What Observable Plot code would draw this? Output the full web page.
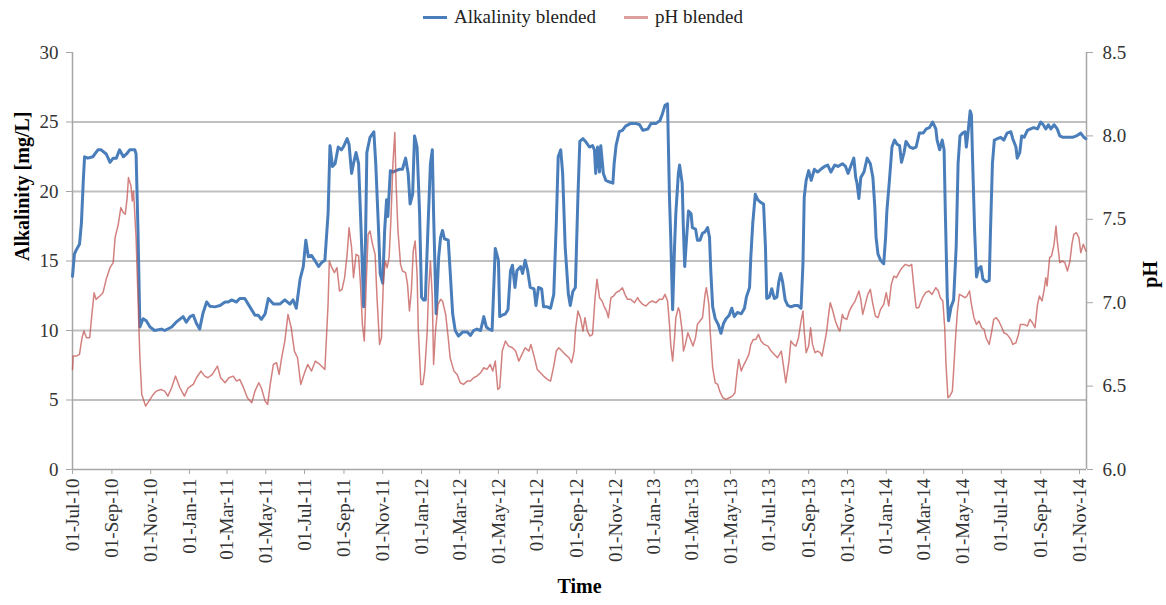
<!DOCTYPE html>
<html>
<head>
<meta charset="utf-8">
<script src="https://cdn.jsdelivr.net/npm/d3@7"></script>
<script src="https://cdn.jsdelivr.net/npm/@observablehq/plot@0.6"></script>
<style>
  body { margin: 0; background: #fff; }
  #wrap { position: relative; width: 1166px; height: 605px; font-family: "Liberation Serif", "Times New Roman", serif; }
  #legend { position: absolute; top: 6px; left: 0; width: 1166px; display: flex; justify-content: center; gap: 28px; font-size: 19px; color: #222; }
  #legend .item { display: flex; align-items: center; gap: 7px; }
  #legend .sw { display: inline-block; width: 24px; height: 3px; }
  #chart svg { display: block; }
</style>
</head>
<body>
<div id="wrap">
  <div id="chart"></div>
  <div id="legend">
    <span class="item"><span class="sw" style="background:#4a7ebb"></span>Alkalinity blended</span>
    <span class="item"><span class="sw" style="background:#c0504d;opacity:0.55"></span>pH blended</span>
  </div>
</div>
<script>
// Series start date; each reading below is [days since start, value]
const startDate = new Date(Date.UTC(2010, 6, 1));
const endDate = new Date(Date.UTC(2014, 10, 12));

// Alkalinity (mg/L), blended water
const alkalinity = [[0,13.9],[3,15.5],[6,15.8],[11,16.2],[14,17.7],[17,20.8],[19,22.5],[24,22.4],[32,22.5],[40,23.0],[45,23.0],[53,22.7],[59,22.1],[64,22.4],[69,22.4],[74,23.0],[80,22.5],[85,22.7],[90,23.0],[98,23.0],[100,22.7],[103,17.2],[106,10.25],[111,10.85],[116,10.7],[122,10.25],[129,10.0],[140,10.1],[145,10.0],[156,10.25],[163,10.6],[174,11.0],[179,10.6],[185,11.0],[190,11.1],[195,10.5],[200,10.1],[205,11.2],[211,12.05],[216,11.75],[224,11.7],[232,11.8],[240,12.05],[245,12.05],[250,12.2],[258,12.05],[263,12.3],[271,12.3],[279,11.7],[287,11.1],[292,11.1],[297,10.8],[303,11.2],[308,12.3],[316,11.9],[326,11.9],[334,12.2],[342,11.9],[347,12.2],[352,11.6],[358,13.7],[363,14.6],[367,16.5],[371,15.3],[376,15.4],[381,15.05],[387,14.6],[392,14.9],[397,15.05],[402,18.4],[405,23.3],[409,21.8],[413,22.0],[418,23.2],[423,23.0],[426,23.2],[432,23.8],[435,23.4],[439,21.3],[442,22.0],[446,22.8],[450,22.0],[454,17.2],[458,11.7],[461,16.7],[463,22.8],[468,23.9],[474,24.3],[477,22.0],[481,17.7],[484,14.1],[488,13.4],[491,17.2],[494,19.4],[496,18.2],[500,21.5],[504,21.4],[509,21.5],[514,21.6],[519,21.6],[524,22.4],[528,21.3],[531,19.1],[535,19.8],[538,24.0],[542,23.2],[546,18.4],[549,12.4],[552,12.2],[555,12.2],[559,17.2],[563,22.0],[566,23.0],[568,18.4],[572,11.2],[576,15.3],[579,16.7],[582,17.2],[585,16.6],[591,16.5],[594,14.3],[598,11.2],[602,10.0],[607,9.6],[614,9.9],[621,9.9],[626,9.65],[631,10.0],[636,10.1],[642,10.0],[647,11.0],[651,10.25],[655,10.1],[660,10.0],[665,15.9],[670,15.05],[672,11.0],[676,11.1],[681,11.2],[685,11.5],[689,14.3],[692,14.7],[696,13.1],[699,14.3],[705,14.6],[708,14.1],[712,15.05],[716,14.3],[720,13.1],[726,13.0],[729,11.8],[733,13.1],[738,13.0],[741,11.7],[747,11.7],[752,11.6],[757,12.6],[761,17.7],[764,22.5],[768,23.0],[771,21.3],[775,16.0],[780,12.6],[783,11.8],[787,12.8],[791,13.1],[795,19.6],[798,23.6],[803,23.8],[807,23.6],[813,23.2],[818,23.3],[821,23.0],[823,21.3],[826,23.2],[829,21.4],[831,23.3],[835,21.3],[839,20.8],[844,20.7],[850,20.6],[852,22.0],[855,23.3],[860,24.3],[865,24.4],[870,24.7],[878,24.9],[886,24.9],[892,24.8],[897,24.4],[905,24.5],[910,24.9],[918,24.9],[924,25.1],[928,25.6],[932,26.2],[936,26.3],[939,19.6],[941,16.7],[944,11.5],[947,16.0],[949,18.4],[953,21.3],[955,21.9],[959,20.6],[961,17.2],[963,14.6],[966,16.7],[969,18.6],[973,18.4],[975,17.4],[980,17.3],[983,16.5],[987,16.5],[991,17.0],[995,17.1],[999,17.4],[1002,16.7],[1004,14.3],[1007,11.7],[1011,10.85],[1016,10.4],[1020,9.8],[1024,10.5],[1028,10.85],[1033,11.1],[1037,11.6],[1041,11.0],[1046,11.3],[1052,11.2],[1057,11.6],[1060,12.4],[1065,13.1],[1067,15.3],[1070,17.7],[1074,19.8],[1078,19.4],[1083,19.2],[1087,19.1],[1090,16.0],[1092,12.3],[1096,12.4],[1100,13.0],[1104,12.3],[1108,12.4],[1111,13.5],[1114,14.1],[1117,13.5],[1121,12.2],[1125,11.8],[1130,11.7],[1136,11.8],[1141,11.8],[1146,11.6],[1149,14.8],[1151,19.6],[1154,20.8],[1158,21.5],[1162,20.8],[1167,21.6],[1172,21.4],[1177,21.6],[1183,21.8],[1188,21.9],[1193,21.4],[1199,21.9],[1204,21.8],[1211,22.0],[1216,21.8],[1220,21.3],[1224,21.8],[1229,22.4],[1232,21.0],[1234,20.6],[1237,19.5],[1240,21.0],[1245,21.4],[1250,22.4],[1255,22.0],[1259,21.0],[1262,18.9],[1264,16.7],[1267,15.5],[1271,15.05],[1276,14.8],[1279,16.7],[1281,18.6],[1285,20.8],[1289,23.2],[1293,23.7],[1297,23.4],[1301,23.3],[1304,22.1],[1308,22.8],[1311,23.6],[1317,23.2],[1322,23.1],[1327,23.2],[1332,24.2],[1338,24.2],[1343,24.5],[1348,24.6],[1353,25.0],[1358,24.5],[1360,23.7],[1364,23.0],[1368,23.7],[1371,23.0],[1373,18.4],[1376,12.4],[1378,10.7],[1382,11.7],[1386,12.2],[1390,16.0],[1393,22.0],[1396,24.0],[1400,24.2],[1404,24.3],[1406,23.2],[1409,24.4],[1412,25.8],[1414,25.5],[1416,22.0],[1419,17.2],[1422,13.85],[1425,14.45],[1429,14.6],[1432,13.7],[1437,13.5],[1442,13.6],[1444,17.2],[1447,22.0],[1450,23.7],[1455,23.8],[1460,23.9],[1465,23.7],[1470,24.2],[1476,24.3],[1479,23.8],[1484,23.2],[1486,22.4],[1490,22.8],[1493,24.0],[1497,23.9],[1502,24.4],[1507,24.5],[1512,24.6],[1518,24.5],[1523,25.0],[1527,24.8],[1531,24.5],[1535,24.8],[1539,24.5],[1544,24.8],[1549,24.5],[1553,24.0],[1558,23.9],[1565,23.9],[1573,23.9],[1579,24.0],[1586,24.2],[1591,23.9],[1594,23.8]];

// pH, blended water
const ph = [[0,6.60],[1,6.68],[6,6.68],[11,6.69],[15,6.79],[18,6.83],[22,6.79],[27,6.79],[30,6.91],[34,7.06],[37,7.02],[43,7.04],[48,7.06],[53,7.14],[59,7.21],[64,7.24],[67,7.39],[72,7.47],[76,7.57],[80,7.54],[83,7.53],[86,7.63],[88,7.75],[92,7.70],[94,7.61],[96,7.67],[100,7.39],[103,7.03],[106,6.67],[109,6.45],[115,6.38],[122,6.42],[127,6.45],[132,6.47],[139,6.48],[145,6.47],[150,6.44],[156,6.49],[162,6.56],[169,6.49],[176,6.44],[182,6.49],[190,6.51],[195,6.55],[202,6.59],[208,6.56],[213,6.55],[220,6.57],[228,6.62],[233,6.55],[240,6.52],[246,6.55],[253,6.56],[258,6.53],[263,6.54],[268,6.50],[275,6.43],[282,6.40],[287,6.47],[293,6.52],[297,6.49],[303,6.41],[307,6.39],[311,6.51],[316,6.63],[321,6.64],[325,6.57],[329,6.67],[334,6.77],[339,6.93],[344,6.85],[349,6.71],[354,6.67],[359,6.51],[365,6.58],[370,6.63],[376,6.59],[382,6.65],[389,6.63],[397,6.60],[402,6.99],[404,7.25],[408,7.21],[412,7.18],[416,7.21],[420,7.07],[424,7.08],[428,7.15],[432,7.29],[435,7.45],[439,7.33],[442,7.15],[446,7.29],[450,7.28],[453,7.11],[456,6.87],[459,6.77],[462,7.11],[465,7.41],[468,7.43],[472,7.35],[476,7.29],[479,7.03],[483,6.75],[486,6.79],[489,7.13],[492,7.25],[495,7.21],[498,7.27],[501,7.51],[504,7.83],[507,8.02],[509,7.71],[512,7.43],[516,7.23],[519,7.19],[524,7.18],[527,7.11],[530,6.95],[533,7.07],[536,7.31],[539,7.37],[542,7.17],[544,6.83],[548,6.51],[551,6.51],[554,6.59],[558,6.83],[560,7.07],[563,7.25],[566,7.03],[568,6.63],[571,6.83],[575,6.99],[579,7.02],[582,7.01],[587,6.93],[591,6.79],[594,6.67],[600,6.59],[605,6.57],[610,6.52],[615,6.51],[621,6.53],[626,6.53],[631,6.55],[636,6.56],[642,6.58],[647,6.61],[652,6.60],[657,6.63],[661,6.59],[665,6.65],[669,6.48],[672,6.49],[676,6.71],[681,6.77],[686,6.74],[692,6.73],[697,6.71],[702,6.65],[707,6.69],[712,6.73],[718,6.71],[721,6.75],[726,6.68],[731,6.60],[736,6.58],[741,6.56],[747,6.54],[752,6.53],[757,6.62],[761,6.71],[765,6.73],[770,6.71],[775,6.69],[781,6.67],[785,6.64],[789,6.71],[791,6.83],[795,6.95],[799,6.91],[803,6.83],[806,6.91],[810,6.83],[814,6.80],[818,6.81],[822,7.03],[825,7.14],[829,7.03],[833,7.01],[836,6.98],[840,6.95],[843,6.91],[847,7.03],[851,7.04],[855,7.06],[860,7.07],[865,7.09],[869,7.05],[873,7.02],[878,7.02],[884,7.00],[889,7.03],[892,7.01],[897,6.99],[902,6.98],[907,7.00],[912,7.01],[918,7.00],[923,7.02],[928,7.02],[932,7.05],[936,7.01],[939,6.87],[941,6.75],[944,6.65],[947,6.79],[949,6.91],[953,6.97],[955,6.95],[959,6.83],[961,6.71],[964,6.75],[968,6.82],[971,6.79],[976,6.74],[980,6.79],[983,6.87],[987,6.89],[991,6.91],[995,7.05],[997,7.09],[1001,6.99],[1003,6.83],[1007,6.61],[1011,6.52],[1015,6.51],[1018,6.47],[1023,6.43],[1028,6.42],[1033,6.43],[1038,6.44],[1042,6.46],[1045,6.57],[1048,6.66],[1052,6.59],[1055,6.62],[1059,6.65],[1064,6.69],[1067,6.75],[1071,6.78],[1075,6.78],[1079,6.81],[1083,6.77],[1088,6.75],[1094,6.74],[1099,6.71],[1104,6.69],[1109,6.67],[1115,6.71],[1118,6.63],[1122,6.52],[1127,6.65],[1130,6.77],[1134,6.75],[1138,6.74],[1142,6.79],[1146,6.89],[1149,6.95],[1151,6.83],[1154,6.70],[1158,6.74],[1161,6.85],[1164,6.75],[1168,6.70],[1172,6.71],[1176,6.70],[1179,6.68],[1183,6.76],[1186,6.82],[1190,6.95],[1192,7.00],[1196,6.95],[1200,6.89],[1204,6.85],[1207,6.83],[1211,6.93],[1213,6.91],[1218,6.90],[1222,6.95],[1226,6.98],[1231,7.01],[1234,7.04],[1237,7.07],[1240,7.02],[1243,6.93],[1247,6.99],[1251,7.05],[1255,7.08],[1259,6.99],[1263,6.92],[1267,6.91],[1271,6.96],[1276,6.99],[1280,7.06],[1284,6.98],[1288,7.11],[1292,7.16],[1296,7.15],[1300,7.18],[1305,7.21],[1310,7.23],[1316,7.22],[1320,7.23],[1323,7.11],[1327,6.97],[1331,6.97],[1337,7.03],[1342,7.06],[1347,7.07],[1352,7.05],[1358,7.09],[1362,7.07],[1365,7.03],[1369,7.01],[1372,6.85],[1374,6.63],[1377,6.43],[1380,6.44],[1384,6.47],[1386,6.59],[1389,6.79],[1392,6.95],[1395,7.05],[1400,7.04],[1404,7.03],[1407,7.04],[1411,7.07],[1414,6.99],[1418,6.91],[1422,6.87],[1426,6.89],[1430,6.85],[1434,6.84],[1437,6.79],[1442,6.75],[1446,6.83],[1449,6.90],[1453,6.91],[1457,6.89],[1462,6.85],[1465,6.82],[1470,6.81],[1476,6.78],[1479,6.75],[1484,6.76],[1488,6.81],[1491,6.87],[1497,6.87],[1502,6.86],[1506,6.90],[1510,6.88],[1514,6.85],[1518,6.99],[1521,7.04],[1525,7.01],[1528,7.07],[1531,7.15],[1533,7.10],[1537,7.27],[1540,7.28],[1544,7.35],[1547,7.46],[1549,7.37],[1553,7.24],[1557,7.25],[1561,7.24],[1565,7.19],[1569,7.25],[1572,7.35],[1575,7.41],[1579,7.42],[1583,7.39],[1586,7.30],[1590,7.35],[1594,7.31]];

// Axis ticks
const alkTicks = [0, 5, 10, 15, 20, 25, 30];
const alkGrid = [5, 10, 15, 20, 25];
const phTicks = [6.0, 6.5, 7.0, 7.5, 8.0, 8.5];
const dateTicks = d3.utcMonth.every(2).range(startDate, new Date(Date.UTC(2014, 10, 2)));

// pH shares the plot height with alkalinity: 6.0–8.5 maps onto 0–30 mg/L
const [alkMin, alkMax] = [alkTicks[0], alkTicks[alkTicks.length - 1]];
const [phMin, phMax] = [phTicks[0], phTicks[phTicks.length - 1]];
const phToAlk = p => alkMin + (p - phMin) * (alkMax - alkMin) / (phMax - phMin);
const alkToPh = a => phMin + (a - alkMin) * (phMax - phMin) / (alkMax - alkMin);

const toRows = series => series.map(([day, value]) => ({date: d3.utcDay.offset(startDate, day), value}));
const alkRows = toRows(alkalinity);
const phRows = toRows(ph);

const axisGray = "#a6a6a6";
const labelColor = "#333";

const chart = Plot.plot({
  width: 1166,
  height: 605,
  marginLeft: 72,
  marginRight: 80,
  marginTop: 52,
  marginBottom: 136,
  style: {fontFamily: '"Liberation Serif", "Times New Roman", serif', fontSize: "19px", background: "#fff", color: labelColor},
  x: {type: "utc", domain: [startDate, endDate]},
  y: {domain: [alkMin, alkMax]},
  marks: [
    Plot.ruleY(alkGrid, {stroke: "#c0c0c0", strokeWidth: 2}),
    Plot.ruleX([startDate, endDate], {stroke: axisGray, strokeWidth: 1.5}),
    Plot.ruleY([alkMin], {stroke: axisGray, strokeWidth: 1.5}),
    Plot.axisY(alkTicks, {anchor: "left", tickSize: 6, tickPadding: 8, stroke: axisGray, fill: labelColor, label: null}),
    Plot.axisY(phTicks.map(phToAlk), {anchor: "right", tickSize: 6, tickPadding: 10, tickFormat: v => alkToPh(v).toFixed(1), stroke: axisGray, fill: labelColor, label: null}),
    Plot.axisX(dateTicks, {anchor: "bottom", tickSize: 5, tickPadding: 4, tickRotate: -90, tickFormat: d3.utcFormat("%d-%b-%y"), stroke: axisGray, fill: labelColor, label: null}),
    Plot.line(alkRows, {x: "date", y: "value", stroke: "#4a7ebb", strokeWidth: 3}),
    Plot.line(phRows, {x: "date", y: d => phToAlk(d.value), stroke: "#c0504d", strokeWidth: 1.5, strokeOpacity: 0.72}),
    Plot.text(["Alkalinity [mg/L]"], {text: d => d, frameAnchor: "left", dx: -50, rotate: -90, fontWeight: "bold", fontSize: 20, fill: "#000"}),
    Plot.text(["pH"], {text: d => d, frameAnchor: "right", dx: 64, rotate: -90, fontWeight: "bold", fontSize: 20, fill: "#000"}),
    Plot.text(["Time"], {text: d => d, frameAnchor: "bottom", dy: 123, fontWeight: "bold", fontSize: 20, fill: "#000"})
  ]
});

document.getElementById("chart").appendChild(chart);
</script>
</body>
</html>
